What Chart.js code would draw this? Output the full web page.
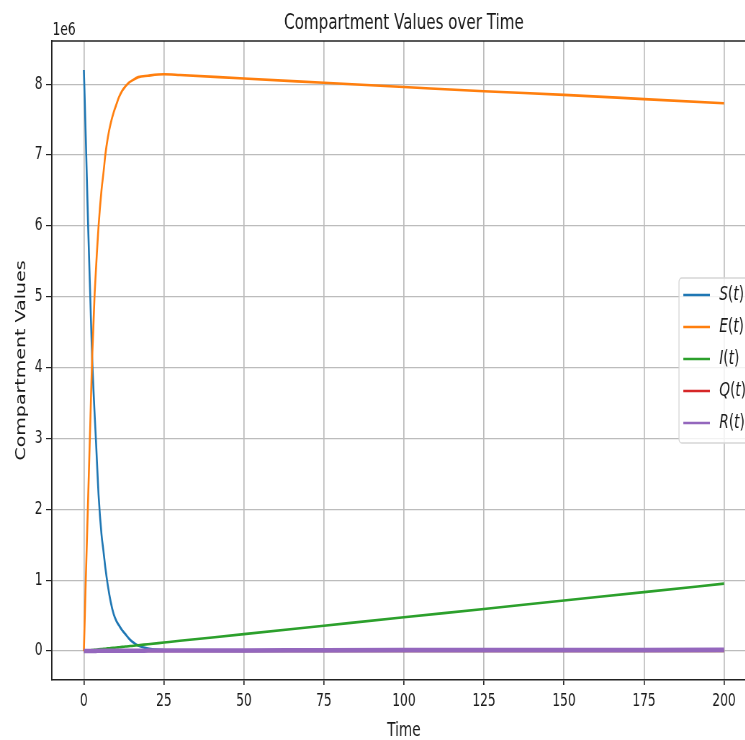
<!DOCTYPE html>
<html>
<head>
<meta charset="utf-8">
<script src="https://cdn.jsdelivr.net/npm/chart.js@4.4.1/dist/chart.umd.min.js"></script>
<style>
  body { margin: 0; overflow: hidden; background: #fff; }
  /* the reference is squeezed sideways, so draw wide and squeeze the whole thing */
  #wrap { width: 1090px; height: 740px; transform: scaleX(0.72); transform-origin: 0 0; }
</style>
</head>
<body>
<div id="wrap"><canvas id="mycanvas" width="1090" height="740"></canvas></div>
<script>
// values in units of 1e6
var time = [0, 0.6, 1.3, 2, 2.6, 3.3, 3.8, 4.6, 5.5, 6.2, 6.7, 7.5, 8.4, 9.3, 10.2, 11, 12, 13, 14, 15, 17, 20, 25, 30, 50, 75, 100, 125, 150, 175, 200];
var S = [8.20, 7.25, 6.05, 5.00, 4.12, 3.40, 2.95, 2.20, 1.65, 1.38, 1.18, 0.92, 0.69, 0.52, 0.42, 0.36, 0.29, 0.235, 0.18, 0.135, 0.075, 0.035, 0.01, 0.003, 0, 0, 0, 0, 0, 0, 0];
var E = [0, 1.0, 2.1, 3.2, 4.15, 4.97, 5.4, 6.0, 6.5, 6.78, 7.0, 7.25, 7.45, 7.6, 7.72, 7.82, 7.91, 7.97, 8.02, 8.05, 8.10, 8.12, 8.14, 8.13, 8.08, 8.02, 7.96, 7.90, 7.85, 7.79, 7.73];
var I = [0, 0.003, 0.006, 0.009, 0.012, 0.016, 0.018, 0.022, 0.026, 0.029, 0.032, 0.036, 0.040, 0.044, 0.048, 0.052, 0.057, 0.062, 0.067, 0.071, 0.081, 0.095, 0.119, 0.143, 0.237, 0.356, 0.475, 0.593, 0.712, 0.83, 0.95];
var Q = [0, 0, 0, 0, 0, 0, 0, 0, 0, 0, 0, 0, 0, 0, 0, 0, 0, 0, 0, 0, 0, 0, 0, 0, 0, 0, 0, 0, 0, 0, 0];
var R = [0, 0, 0, 0.001, 0.001, 0.001, 0.001, 0.002, 0.002, 0.002, 0.002, 0.002, 0.003, 0.003, 0.003, 0.003, 0.003, 0.003, 0.004, 0.004, 0.004, 0.005, 0.006, 0.006, 0.008, 0.01, 0.012, 0.013, 0.014, 0.015, 0.016];

var labels = ["S(t)", "E(t)", "I(t)", "Q(t)", "R(t)"];
var colors = ["#1f77b4", "#ff7f0e", "#2ca02c", "#d62728", "#9467bd"];
var xTicks = [0, 25, 50, 75, 100, 125, 150, 175, 200];
var yTicks = [0, 1, 2, 3, 4, 5, 6, 7, 8];

var FONT = "DejaVu Sans";
Chart.defaults.font.family = FONT;

function pts(arr) {
  return time.map(function(t, i) { return { x: t, y: arr[i] }; });
}

var series = [S, E, I, Q, R];
var datasets = [];
for (var i in series) {
  datasets.push({
    label: labels[i],
    data: pts(series[i]),
    borderColor: colors[i],
    backgroundColor: colors[i],
    borderWidth: i == 4 ? 4.5 : 2.6,
    pointRadius: 0,
    fill: false,
    cubicInterpolationMode: "monotone",
    order: 4 - i
  });
}

// draw the math-ish label: letters italic, brackets upright
function drawMath(ctx, text, x, y, size) {
  for (var k = 0; k < text.length; k++) {
    var ch = text[k];
    ctx.font = (/[A-Za-z]/.test(ch) ? "italic " : "") + size + "px " + FONT;
    ctx.fillText(ch, x, y);
    x += ctx.measureText(ch).width;
  }
}

var extras = {
  id: "extras",
  beforeDraw: function(chart) {
    var ctx = chart.ctx;
    ctx.save();
    ctx.fillStyle = "#fff";
    ctx.fillRect(0, 0, chart.width, chart.height);
    ctx.restore();
  },
  afterDraw: function(chart) {
    var ctx = chart.ctx, a = chart.chartArea;
    var cx = (a.left + a.right) / 2;
    ctx.save();
    // top spine
    ctx.strokeStyle = "#222";
    ctx.lineWidth = 1.4;
    ctx.beginPath();
    ctx.moveTo(a.left, a.top);
    ctx.lineTo(a.right, a.top);
    ctx.stroke();

    ctx.fillStyle = "#1a1a1a";
    ctx.textAlign = "center";
    ctx.textBaseline = "alphabetic";
    ctx.font = "21px " + FONT;
    ctx.fillText("Compartment Values over Time", cx, 29);

    ctx.font = "19px " + FONT;
    ctx.fillText("Time", cx, 736);

    ctx.textAlign = "left";
    ctx.font = "17px " + FONT;
    ctx.fillText("1e6", a.left + 1, 35);

    ctx.save();
    ctx.translate(30, (a.top + a.bottom) / 2);
    ctx.rotate(-Math.PI / 2);
    ctx.textAlign = "center";
    ctx.textBaseline = "middle";
    ctx.font = "19px " + FONT;
    ctx.fillText("Compartment Values", 0, 0);
    ctx.restore();

    // legend, center right inside the axes
    var h = 165, left = a.right - 107, right = a.right - 6;
    var top = (a.top + a.bottom) / 2 - h / 2;
    ctx.beginPath();
    ctx.roundRect(left, top, right - left, h, 4);
    ctx.fillStyle = "rgba(255,255,255,0.8)";
    ctx.fill();
    ctx.strokeStyle = "#d6d6d6";
    ctx.lineWidth = 1.3;
    ctx.stroke();
    ctx.textBaseline = "middle";
    for (var j = 0; j < labels.length; j++) {
      var y = top + 17 + j * 32;
      ctx.strokeStyle = colors[j];
      ctx.lineWidth = 2.6;
      ctx.beginPath();
      ctx.moveTo(left + 6, y);
      ctx.lineTo(left + 43, y);
      ctx.stroke();
      ctx.fillStyle = "#1a1a1a";
      drawMath(ctx, labels[j], left + 56, y, 19);
    }
    ctx.restore();
  }
};

var ctx = document.getElementById("mycanvas");
var chart = new Chart(ctx, {
  type: "line",
  data: { datasets: datasets },
  options: {
    responsive: false,
    animation: false,
    devicePixelRatio: 1,
    events: [],
    layout: { padding: { top: 41, right: 40, left: 0, bottom: 0 } },
    plugins: { legend: { display: false }, tooltip: { enabled: false }, title: { display: false } },
    scales: {
      x: {
        type: "linear",
        min: -10,
        max: 210,
        afterBuildTicks: function(s) { s.ticks = xTicks.map(function(v) { return { value: v }; }); },
        afterFit: function(s) { s.height = 60; },
        grid: { color: "#bcbcbc", lineWidth: 1.7, tickColor: "#222", tickLength: 5, tickWidth: 1.6 },
        border: { color: "#222", width: 1.4 },
        ticks: { color: "#1a1a1a", font: { size: 17 }, padding: 6, maxRotation: 0, autoSkip: false }
      },
      y: {
        type: "linear",
        min: -0.41,
        max: 8.61,
        afterBuildTicks: function(s) { s.ticks = yTicks.map(function(v) { return { value: v }; }); },
        afterFit: function(s) { s.width = 72; },
        grid: { color: "#bcbcbc", lineWidth: 1.2, tickColor: "#222", tickLength: 8, tickWidth: 1.2 },
        border: { color: "#222", width: 1.8 },
        ticks: { color: "#1a1a1a", font: { size: 17 }, padding: 5, callback: function(v) { return String(v); } }
      }
    }
  },
  plugins: [extras]
});
</script>
</body>
</html>
